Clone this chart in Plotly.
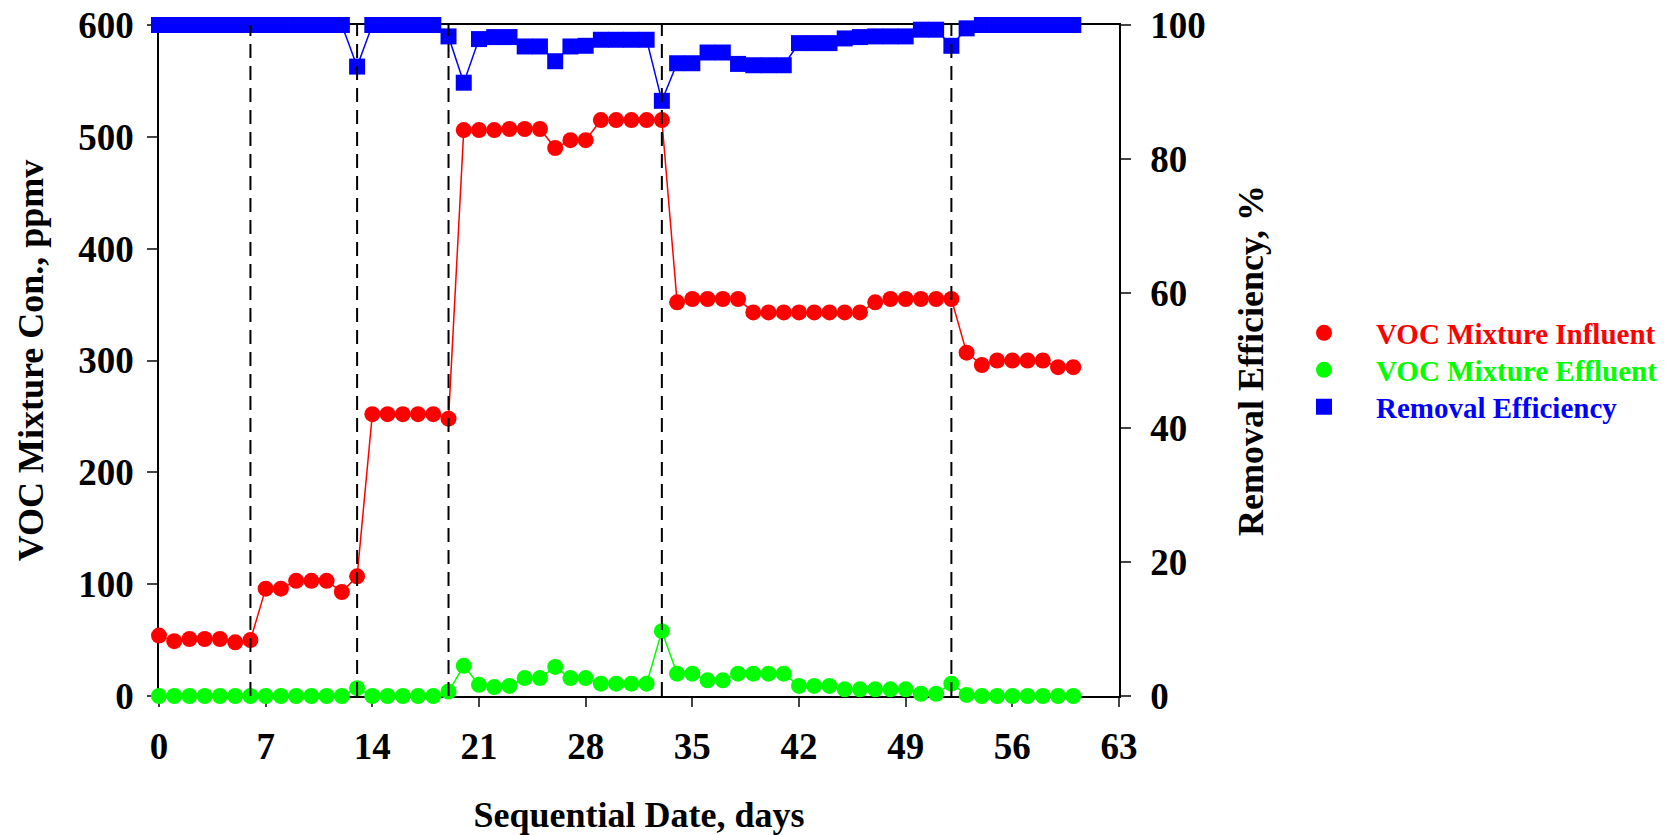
import plotly.graph_objects as go

# Sequential sampling days
days = list(range(61))

# VOC mixture concentration entering the reactor, ppmv
influent = [54, 49, 51, 51, 51, 48, 50, 96, 96, 103, 103, 103, 93, 107,
            252, 252, 252, 252, 252, 248,
            506, 506, 506, 507, 507, 507, 490, 497, 497, 515, 515, 515, 515, 515,
            352, 355, 355, 355, 355, 343, 343, 343, 343, 343, 343, 343, 343,
            352, 355, 355, 355, 355, 355,
            307, 296, 300, 300, 300, 300, 294, 294]

# VOC mixture concentration leaving the reactor, ppmv
effluent = [0, 0, 0, 0, 0, 0, 0, 0, 0, 0, 0, 0, 0, 7,
            0, 0, 0, 0, 0, 4,
            27, 10, 8, 9, 16, 16, 26, 16, 16, 11, 11, 11, 11, 58,
            20, 20, 14, 14, 20, 20, 20, 20, 9, 9, 9, 6, 6, 6, 6, 6,
            2, 2, 11, 1, 0, 0, 0, 0, 0, 0, 0]

# Removal efficiency, %
removal = [100, 100, 100, 100, 100, 100, 100, 100, 100, 100, 100, 100, 100, 93.8,
           100, 100, 100, 100, 100, 98.3,
           91.4, 97.9, 98.2, 98.2, 96.8, 96.8, 94.6, 96.8, 96.9, 97.8, 97.8, 97.8, 97.8, 88.7,
           94.3, 94.3, 95.9, 95.9, 94.2, 94.0, 94.0, 94.0, 97.3, 97.3, 97.3, 98.0, 98.2,
           98.3, 98.3, 98.3, 99.3, 99.3, 96.9, 99.5,
           100, 100, 100, 100, 100, 100, 100]

# Days on which the loading phase changed
phase_changes = [6, 13, 19, 33, 52]

x_ticks = [0, 7, 14, 21, 28, 35, 42, 49, 56, 63]

RED, GREEN, BLUE = "#ff0000", "#00ff00", "#0000ff"
FONT = "Liberation Serif"

fig = go.Figure()

fig.add_trace(go.Scatter(
    x=days, y=influent, mode="lines+markers", showlegend=False,
    line=dict(color=RED, width=1.5),
    marker=dict(color=RED, size=16, symbol="circle"),
    cliponaxis=False))
fig.add_trace(go.Scatter(
    x=days, y=effluent, mode="lines+markers", showlegend=False,
    line=dict(color=GREEN, width=1.5),
    marker=dict(color=GREEN, size=16, symbol="circle"),
    cliponaxis=False))
fig.add_trace(go.Scatter(
    x=days, y=removal, mode="lines+markers", showlegend=False, yaxis="y2",
    line=dict(color=BLUE, width=1.5),
    marker=dict(color=BLUE, size=16, symbol="square"),
    cliponaxis=False))

# Marker-only legend entries, one legend per entry so each label keeps its colour
legend_rows = [
    ("VOC Mixture Influent", RED, "circle", "y", "legend", 333),
    ("VOC Mixture Effluent", GREEN, "circle", "y", "legend2", 370),
    ("Removal Efficiency", BLUE, "square", "y2", "legend3", 407),
]
legend_layout = {}
for name, color, symbol, axis, leg, ypix in legend_rows:
    fig.add_trace(go.Scatter(
        x=[None], y=[None], mode="markers", yaxis=axis, name=name, legend=leg,
        marker=dict(color=color, size=16, symbol=symbol)))
    legend_layout[leg] = dict(
        x=(1272 - 159) / 960, xanchor="left",
        y=(696 - ypix) / 671, yanchor="middle",
        font=dict(family=FONT, size=29, color=color, weight="bold"),
        itemwidth=94, bgcolor="rgba(0,0,0,0)")

for d in phase_changes:
    fig.add_shape(type="line", xref="x", yref="paper", x0=d, x1=d, y0=0, y1=1,
                  line=dict(color="black", width=2, dash="14px,8px"), layer="above")

tick_font = dict(family=FONT, size=37, color="black", weight="bold")
title_font = dict(family=FONT, size=36, color="black", weight="bold")

fig.update_layout(
    width=1679, height=835, autosize=False,
    margin=dict(l=159, r=560, t=25, b=139, autoexpand=False),
    paper_bgcolor="white", plot_bgcolor="white",
    font=dict(family=FONT, color="black", weight="bold"),
    xaxis=dict(
        range=[0, 63], tickvals=x_ticks, ticks="outside", ticklen=9, tickwidth=1.5,
        showline=True, linecolor="black", linewidth=1.5, mirror=True,
        showgrid=False, zeroline=False, layer="below traces", automargin=False,
        tickfont=tick_font, ticklabelstandoff=8,
        title=dict(text="Sequential Date, days", font=title_font, standoff=39)),
    yaxis=dict(
        range=[0, 600], dtick=100, ticks="outside", ticklen=10, tickwidth=1.5,
        showline=True, linecolor="black", linewidth=1.5,
        showgrid=False, zeroline=False, layer="below traces", automargin=False,
        tickfont=tick_font, ticklabelstandoff=6,
        title=dict(text="VOC Mixture Con., ppmv", font=title_font, standoff=24)),
    yaxis2=dict(
        range=[0, 100], dtick=20, overlaying="y", side="right",
        ticks="outside", ticklen=10, tickwidth=1.5,
        showline=True, linecolor="black", linewidth=1.5,
        showgrid=False, zeroline=False, layer="below traces", automargin=False,
        tickfont=tick_font, ticklabelstandoff=12,
        title=dict(text="Removal Efficiency, %", font=title_font, standoff=33)),
    **legend_layout,
)

fig.write_html("out.html")
